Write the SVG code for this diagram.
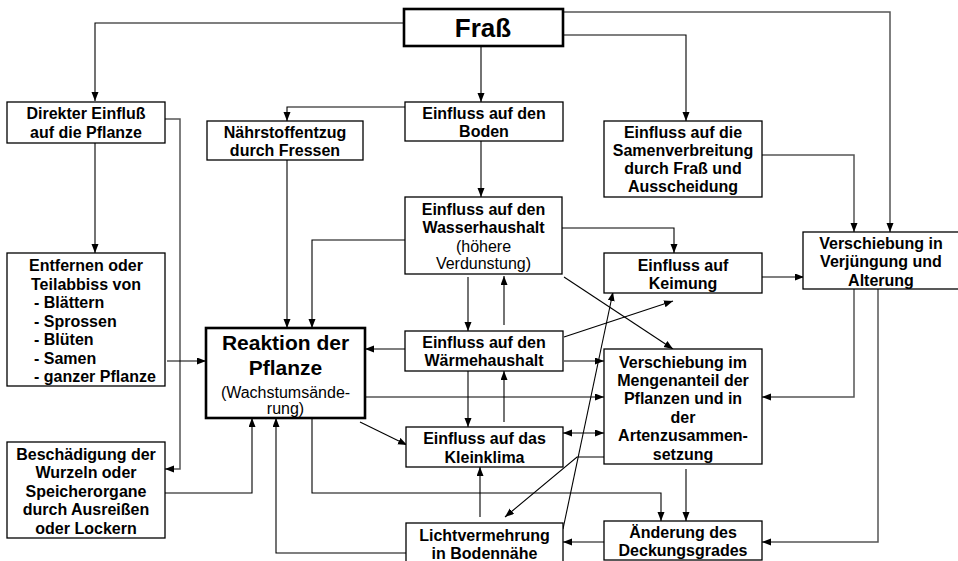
<svg xmlns="http://www.w3.org/2000/svg" width="958" height="561" viewBox="0 0 958 561">
<style>
.box{fill:#fff;stroke:#000;stroke-width:1.3}
.thick{stroke-width:2.6}
.t{font-family:"Liberation Sans",Arial,sans-serif;font-size:16px;font-weight:bold;text-anchor:middle;fill:#000}
.l{text-anchor:start}
.n{font-weight:normal}
.big{font-size:21px}
.huge{font-size:26px}
.c{fill:none;stroke:#000;stroke-width:1.1;marker-end:url(#ah)}
.g{stroke:#555;stroke-width:1.5}
.both{marker-start:url(#ah)}
</style>
<defs>
<marker id="ah" markerUnits="userSpaceOnUse" markerWidth="10" markerHeight="8" refX="9" refY="3.5" orient="auto-start-reverse">
<path d="M0,0 L9,3.5 L0,7 z" fill="#000"/>
</marker>
</defs>
<rect width="958" height="561" fill="#fff"/>
<g id="connectors">
<path class="c" d="M404,23 H95 V101"/>
<path class="c" d="M481,46 V102"/>
<path class="c" d="M563,35 H686 V121"/>
<path class="c g" d="M563,12 H890 V232"/>
<path class="c" d="M405,107 H287 V121"/>
<path class="c" d="M481,141 V197"/>
<path class="c" d="M95,143 V253"/>
<path class="c g" d="M165,119 H180 V469 H165"/>
<path class="c" d="M287,160 V328"/>
<path class="c" d="M405,240 H312 V328"/>
<path class="c" d="M167,361 H206"/>
<path class="c" d="M165,493 H252 V418"/>
<path class="c" d="M406,553 H276 V418"/>
<path class="c g" d="M762,155 H854 V232"/>
<path class="c" d="M562,228 H674 V253"/>
<path class="c" d="M762,277 H804"/>
<path class="c" d="M468,277 V331"/>
<path class="c" d="M504,325 V276"/>
<path class="c" d="M564,277 L673,349"/>
<path class="c" d="M564,337 L673,301"/>
<path class="c" d="M405,349 H365"/>
<path class="c" d="M564,361 H604"/>
<path class="c g" d="M360,397 H604"/>
<path class="c" d="M468,371 V427"/>
<path class="c" d="M504,422 V371"/>
<path class="c" d="M360,422 L407,445"/>
<path class="c both" d="M563,433 H604"/>
<path class="c" d="M604,457 H577 L505,517"/>
<path class="c" d="M563,529 L613,292"/>
<path class="c" d="M480,517 V467"/>
<path class="c" d="M312,418 V493 H661 V521"/>
<path class="c" d="M686,469 V521"/>
<path class="c" d="M604,542 H563"/>
<path class="c g" d="M854,289 V397 H762"/>
<path class="c g" d="M878,289 V542 H762"/>
</g>
<g id="fras"><rect class="box thick" x="404" y="9" width="159" height="37"/><text class="t huge" x="483" y="37">Fraß</text></g>
<g id="direkt"><rect class="box" x="7" y="102" width="158" height="41"/><text class="t" x="86" y="118.5">Direkter Einfluß</text><text class="t" x="86" y="137.5">auf die Pflanze</text></g>
<g id="boden"><rect class="box" x="405" y="102" width="158" height="39"/><text class="t" x="484" y="118.5">Einfluss auf den</text><text class="t" x="484" y="137">Boden</text></g>
<g id="naehr"><rect class="box" x="207" y="121" width="156" height="39"/><text class="t" x="285" y="137.5">Nährstoffentzug</text><text class="t" x="285" y="155.5">durch Fressen</text></g>
<g id="samen"><rect class="box" x="604" y="121" width="158" height="76"/><text class="t" x="683" y="137.5">Einfluss auf die</text><text class="t" x="683" y="155.5">Samenverbreitung</text><text class="t" x="683" y="173.5">durch Fraß und</text><text class="t" x="683" y="192">Ausscheidung</text></g>
<g id="wasser"><rect class="box" x="405" y="197" width="157" height="77"/><text class="t" x="483.5" y="214.5">Einfluss auf den</text><text class="t" x="483.5" y="232.5">Wasserhaushalt</text><text class="t n" x="483.5" y="251.5">(höhere</text><text class="t n" x="483.5" y="269">Verdunstung)</text></g>
<g id="keim"><rect class="box" x="604" y="253" width="158" height="40"/><text class="t" x="683" y="270.5">Einfluss auf</text><text class="t" x="683" y="288.5">Keimung</text></g>
<g id="verj"><rect class="box" x="803" y="232" width="160" height="57"/><text class="t" x="881" y="248.5">Verschiebung in</text><text class="t" x="881" y="267">Verjüngung und</text><text class="t" x="881" y="285.5">Alterung</text></g>
<g id="entf"><rect class="box" x="7" y="253" width="158" height="133"/><text class="t" x="86" y="271">Entfernen oder</text><text class="t" x="86" y="289.5">Teilabbiss von</text><text class="t l" x="34" y="308">- Blättern</text><text class="t l" x="34" y="326.5">- Sprossen</text><text class="t l" x="34" y="345">- Blüten</text><text class="t l" x="34" y="363.5">- Samen</text><text class="t l" x="34" y="382">- ganzer Pflanze</text></g>
<g id="reakt"><rect class="box thick" x="206" y="328" width="159" height="90"/><text class="t big" x="285.5" y="350">Reaktion der</text><text class="t big" x="285.5" y="375">Pflanze</text><text class="t n" x="285.5" y="398">(Wachstumsände-</text><text class="t n" x="285.5" y="414">rung)</text></g>
<g id="waerme"><rect class="box" x="405" y="331" width="158" height="40"/><text class="t" x="484" y="347.5">Einfluss auf den</text><text class="t" x="484" y="365.5">Wärmehaushalt</text></g>
<g id="mengen"><rect class="box" x="604" y="349" width="158" height="115"/><text class="t" x="683" y="367.5">Verschiebung im</text><text class="t" x="683" y="386">Mengenanteil der</text><text class="t" x="683" y="404">Pflanzen und in</text><text class="t" x="683" y="422.5">der</text><text class="t" x="683" y="441">Artenzusammen-</text><text class="t" x="683" y="459.5">setzung</text></g>
<g id="klein"><rect class="box" x="406" y="427" width="157" height="40"/><text class="t" x="484.5" y="443.5">Einfluss auf das</text><text class="t" x="484.5" y="462.5">Kleinklima</text></g>
<g id="besch"><rect class="box" x="7" y="442" width="158" height="96"/><text class="t" x="86" y="459.5">Beschädigung der</text><text class="t" x="86" y="478">Wurzeln oder</text><text class="t" x="86" y="496.5">Speicherorgane</text><text class="t" x="86" y="515">durch Ausreißen</text><text class="t" x="86" y="533.5">oder Lockern</text></g>
<g id="licht"><rect class="box" x="406" y="523" width="157" height="40"/><text class="t" x="484.5" y="540.5">Lichtvermehrung</text><text class="t" x="484.5" y="559">in Bodennähe</text></g>
<g id="aender"><rect class="box" x="604" y="521" width="158" height="39"/><text class="t" x="683" y="537.5">Änderung des</text><text class="t" x="683" y="556">Deckungsgrades</text></g>
</svg>
